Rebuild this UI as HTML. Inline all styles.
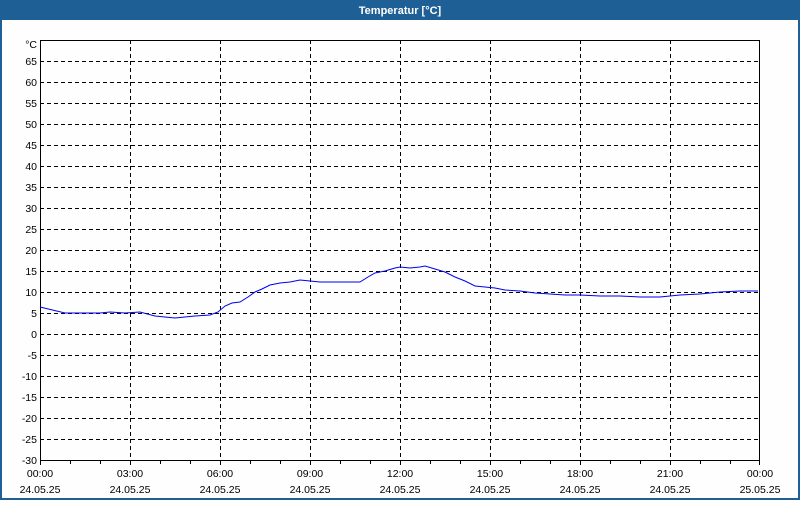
<!DOCTYPE html>
<html><head><style>
body{margin:0;background:#fff}
</style></head><body>
<svg width="800" height="500" xmlns="http://www.w3.org/2000/svg" font-family="Liberation Sans, DejaVu Sans, sans-serif" font-size="10.5">
<rect x="0" y="0" width="800" height="500" fill="#fdfefd"/>
<rect x="0" y="0" width="800" height="20" fill="#1e5f96"/>
<rect x="0" y="0" width="2" height="500" fill="#1e5f96"/>
<rect x="798" y="0" width="2" height="500" fill="#1e5f96"/>
<rect x="0" y="498" width="800" height="2" fill="#1e5f96"/>
<text x="400" y="14" fill="#fff" font-weight="bold" text-anchor="middle" font-size="11">Temperatur [°C]</text>
<g stroke="#000" stroke-width="1" stroke-dasharray="4,3" shape-rendering="crispEdges">
<line x1="40" x2="760" y1="61.5" y2="61.5"/><line x1="40" x2="760" y1="82.5" y2="82.5"/><line x1="40" x2="760" y1="103.5" y2="103.5"/><line x1="40" x2="760" y1="124.5" y2="124.5"/><line x1="40" x2="760" y1="145.5" y2="145.5"/><line x1="40" x2="760" y1="166.5" y2="166.5"/><line x1="40" x2="760" y1="187.5" y2="187.5"/><line x1="40" x2="760" y1="208.5" y2="208.5"/><line x1="40" x2="760" y1="229.5" y2="229.5"/><line x1="40" x2="760" y1="250.5" y2="250.5"/><line x1="40" x2="760" y1="271.5" y2="271.5"/><line x1="40" x2="760" y1="292.5" y2="292.5"/><line x1="40" x2="760" y1="313.5" y2="313.5"/><line x1="40" x2="760" y1="334.5" y2="334.5"/><line x1="40" x2="760" y1="355.5" y2="355.5"/><line x1="40" x2="760" y1="376.5" y2="376.5"/><line x1="40" x2="760" y1="397.5" y2="397.5"/><line x1="40" x2="760" y1="418.5" y2="418.5"/><line x1="40" x2="760" y1="439.5" y2="439.5"/>
<line x1="130.5" x2="130.5" y1="40" y2="460"/><line x1="220.5" x2="220.5" y1="40" y2="460"/><line x1="310.5" x2="310.5" y1="40" y2="460"/><line x1="400.5" x2="400.5" y1="40" y2="460"/><line x1="490.5" x2="490.5" y1="40" y2="460"/><line x1="580.5" x2="580.5" y1="40" y2="460"/><line x1="670.5" x2="670.5" y1="40" y2="460"/>
</g>
<rect x="40.5" y="40.5" width="719" height="420" fill="none" stroke="#000" shape-rendering="crispEdges"/>
<g stroke="#000" shape-rendering="crispEdges" id="ticks"></g>
<polyline fill="none" stroke="#0000ee" stroke-width="1" points="40,307 65,313 100,313 110,312 125,313 140,312 155,316 175,318 195,316 210,315 218,312 225,306 232,303 240,302 248,297 255,292 262,289 270,285 280,283 290,282 300,280 310,281 320,282 330,282 340,282 360,282 368,277 375,273 385,271 395,268 400,267 410,268 420,267 425,266 435,269 445,272 455,277 465,281 475,286 485,287 495,288 505,290 520,291 535,293 550,294 565,295 580,295 600,296 620,296 640,297 660,297 680,295 700,294 720,292 740,291 758,291"/>
<g text-anchor="end" fill="#000">
<text x="37" y="48">°C</text>
<text x="37" y="65">65</text><text x="37" y="86">60</text><text x="37" y="107">55</text><text x="37" y="128">50</text><text x="37" y="149">45</text><text x="37" y="170">40</text><text x="37" y="191">35</text><text x="37" y="212">30</text><text x="37" y="233">25</text><text x="37" y="254">20</text><text x="37" y="275">15</text><text x="37" y="296">10</text><text x="37" y="317">5</text><text x="37" y="338">0</text><text x="37" y="359">-5</text><text x="37" y="380">-10</text><text x="37" y="401">-15</text><text x="37" y="422">-20</text><text x="37" y="443">-25</text><text x="37" y="464">-30</text>
</g>
<g text-anchor="middle" fill="#000">
<text x="40" y="477">00:00</text><text x="130" y="477">03:00</text><text x="220" y="477">06:00</text><text x="310" y="477">09:00</text><text x="400" y="477">12:00</text><text x="490" y="477">15:00</text><text x="580" y="477">18:00</text><text x="670" y="477">21:00</text><text x="760" y="477">00:00</text>
<text x="40" y="493">24.05.25</text><text x="130" y="493">24.05.25</text><text x="220" y="493">24.05.25</text><text x="310" y="493">24.05.25</text><text x="400" y="493">24.05.25</text><text x="490" y="493">24.05.25</text><text x="580" y="493">24.05.25</text><text x="670" y="493">24.05.25</text><text x="760" y="493">25.05.25</text>
</g>
<path stroke="#000" shape-rendering="crispEdges" d="M40.5,461v4M70.5,461v3M100.5,461v3M130.5,461v4M160.5,461v3M190.5,461v3M220.5,461v4M250.5,461v3M280.5,461v3M310.5,461v4M340.5,461v3M370.5,461v3M400.5,461v4M430.5,461v3M460.5,461v3M490.5,461v4M520.5,461v3M550.5,461v3M580.5,461v4M610.5,461v3M640.5,461v3M670.5,461v4M700.5,461v3M730.5,461v3M759.5,461v4"/>
</svg>
</body></html>
